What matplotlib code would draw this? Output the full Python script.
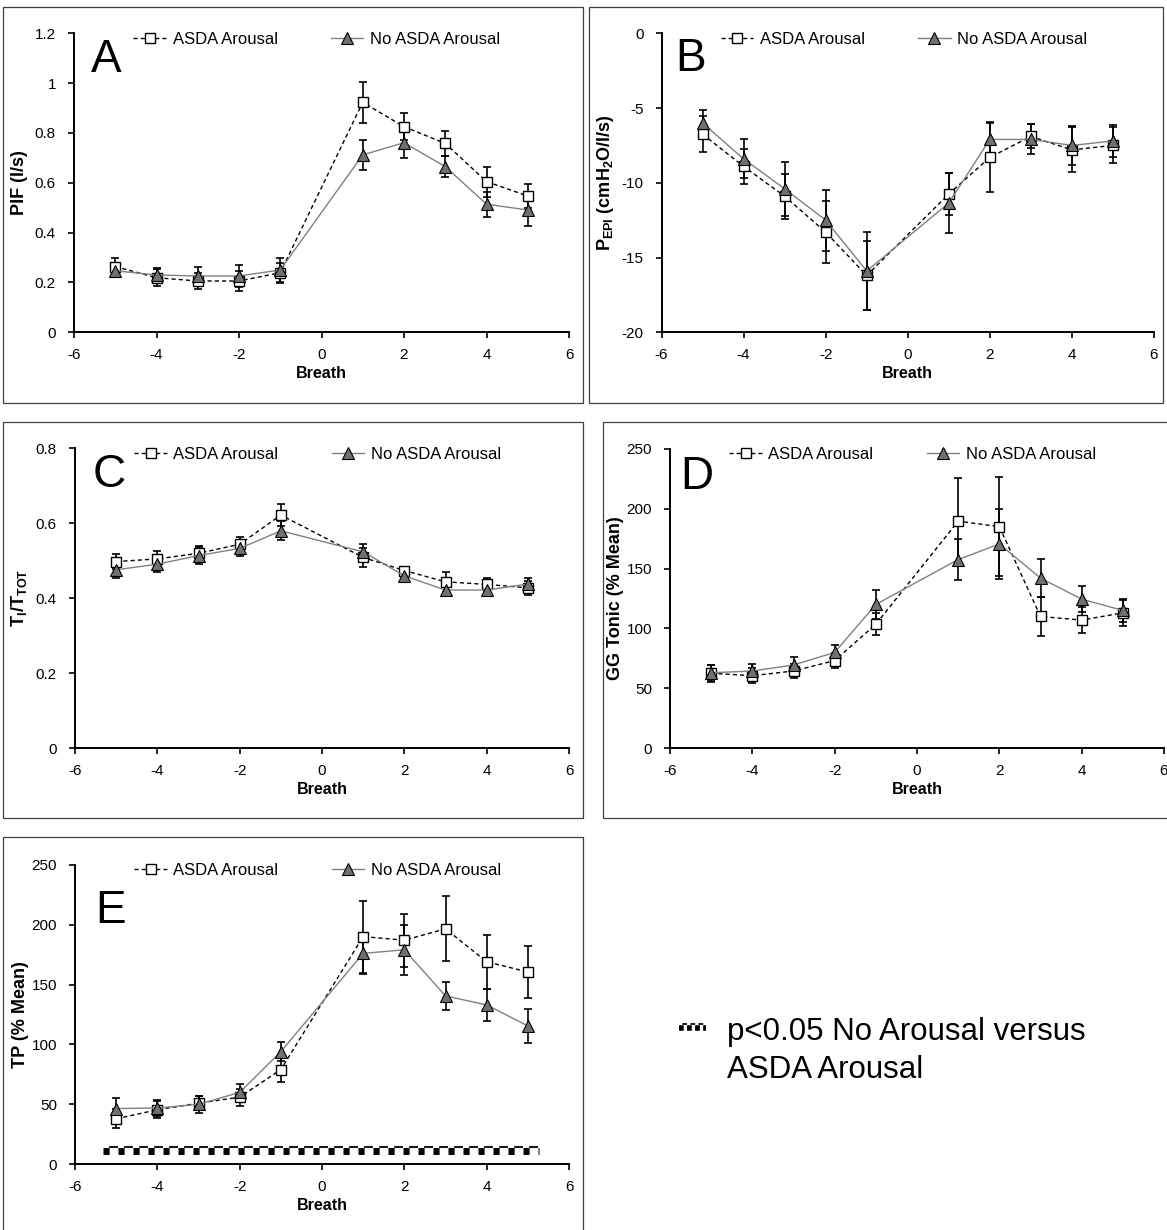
import matplotlib
matplotlib.use("Agg")
import matplotlib.pyplot as plt
from matplotlib.lines import Line2D
from matplotlib.patches import Rectangle
from matplotlib.ticker import FuncFormatter

plt.rcParams['font.family'] = ['Liberation Sans', 'DejaVu Sans']
plt.rcParams['mathtext.fontset'] = 'custom'
plt.rcParams['mathtext.rm'] = 'Liberation Sans'
plt.rcParams['mathtext.bf'] = 'Liberation Sans:bold'
plt.rcParams['mathtext.it'] = 'Liberation Sans:italic'
plt.rcParams['lines.scale_dashes'] = False
plt.rcParams['axes.unicode_minus'] = False

# breath number relative to arousal
breath = [-5, -4, -3, -2, -1, 1, 2, 3, 4, 5]

# A: PIF
pif_asda = [0.264, 0.219, 0.206, 0.206, 0.239, 0.923, 0.825, 0.758, 0.605, 0.547]
pif_asda_err = [0.036, 0.034, 0.032, 0.04, 0.04, 0.083, 0.054, 0.05, 0.06, 0.05]
pif_no = [0.247, 0.23, 0.226, 0.226, 0.25, 0.712, 0.761, 0.665, 0.514, 0.491]
pif_no_err = [0.027, 0.03, 0.037, 0.044, 0.05, 0.06, 0.06, 0.043, 0.05, 0.063]

# B: PEPI
pepi_asda = [-6.75, -8.9, -10.9, -13.3, -16.2, -10.75, -8.3, -6.9, -7.8, -7.5]
pepi_asda_err = [1.2, 1.15, 1.5, 2.05, 2.3, 1.4, 2.3, 0.8, 1.5, 1.2]
pepi_no = [-6.0, -8.4, -10.4, -12.5, -15.9, -11.35, -7.1, -7.1, -7.5, -7.2]
pepi_no_err = [0.85, 1.3, 1.8, 2.05, 2.6, 2.0, 1.15, 1.0, 1.3, 1.05]

# C: Ti/Ttot
ti_asda = [0.498, 0.505, 0.52, 0.544, 0.622, 0.509, 0.474, 0.444, 0.437, 0.428]
ti_asda_err = [0.02, 0.02, 0.02, 0.02, 0.03, 0.025, 0.01, 0.027, 0.018, 0.018]
ti_no = [0.476, 0.491, 0.514, 0.533, 0.58, 0.524, 0.46, 0.422, 0.422, 0.438]
ti_no_err = [0.022, 0.02, 0.022, 0.02, 0.025, 0.022, 0.01, 0.015, 0.01, 0.015]

# D: GG tonic
gg_asda = [62.6, 60.6, 64.5, 73.2, 103.5, 189.5, 185, 110, 107, 113]
gg_asda_err = [7, 6, 6, 6, 9, 36, 41, 16, 11, 11]
gg_no = [63, 64.5, 69.5, 80, 120, 157.5, 170.5, 142, 124.5, 115]
gg_no_err = [6.5, 6, 7, 6.5, 12, 17, 29, 16, 11, 10]

# E: TP
tp_asda = [38, 45.5, 51, 56, 79, 190, 187, 196.5, 169, 160.5]
tp_asda_err = [8, 7, 6, 7, 10, 30, 22, 27, 22.5, 22]
tp_no = [46.5, 47, 50, 60, 94, 176, 179, 140.5, 133, 115.5]
tp_no_err = [9, 7, 7, 7, 8, 17, 21, 11.5, 13.5, 14]

# significance bar (panel E)
sig_x = [-5.33, 5.27]
sig_y = 11.5

W, H = 1167, 1230
fig = plt.figure(figsize=(W / 100, H / 100), dpi=100)


def px_rect(x0, y0, x1, y1):
    # pixel box (top-left origin) -> figure fraction [l, b, w, h]
    return [x0 / W, 1 - y1 / H, (x1 - x0) / W, (y1 - y0) / H]


def panel(rect, asda, asda_err, no, no_err, ylim, yticks, ylabel, letter, letter_pos):
    ax = fig.add_axes(rect)
    ax.errorbar(breath, asda, yerr=asda_err, fmt='none', ecolor='black',
                elinewidth=1.2, capsize=2.7, capthick=1.2, zorder=2)
    ax.errorbar(breath, no, yerr=no_err, fmt='none', ecolor='black',
                elinewidth=1.2, capsize=2.7, capthick=1.2, zorder=2)
    ax.plot(breath, asda, color='black', lw=1.0, dashes=(3, 2.2),
            marker='s', ms=7.2, mfc='white', mec='black', mew=1.0,
            zorder=3, label='ASDA Arousal')
    ax.plot(breath, no, color='#808080', lw=1.0, ls='-',
            marker='^', ms=8, mfc='#707070', mec='black', mew=0.8,
            zorder=4, label='No ASDA Arousal')
    ax.set_xlim(-6, 6)
    ax.set_ylim(*ylim)
    ax.set_xticks([-6, -4, -2, 0, 2, 4, 6])
    ax.set_yticks(yticks)
    ax.yaxis.set_major_formatter(FuncFormatter(lambda v, p: '{:g}'.format(round(v, 3))))
    for s in ['top', 'right']:
        ax.spines[s].set_visible(False)
    for s in ['left', 'bottom']:
        ax.spines[s].set_linewidth(1.4)
    ax.tick_params(direction='out', length=4, width=1.2, labelsize=11)
    ax.tick_params(axis='x', pad=7.5)
    ax.tick_params(axis='y', pad=9)
    ax.set_xlabel('Breath', fontsize=11.5, fontweight='bold', labelpad=2.5)
    ax.set_ylabel(ylabel, fontsize=13, fontweight='bold')
    ax.yaxis.set_label_coords(-0.093, 0.5)
    ax.legend(loc='center left', bbox_to_anchor=(0.12, 0.98), ncol=2,
              frameon=False, fontsize=12, handlelength=1.95, handletextpad=0.4,
              columnspacing=3.2, borderpad=0, borderaxespad=0, markerscale=1.0)
    ax.text(letter_pos[0], letter_pos[1], letter, transform=ax.transAxes,
            fontsize=33, va='baseline', ha='left')
    return ax


panel(px_rect(74, 33.3, 569, 332.3), pif_asda, pif_asda_err, pif_no, pif_no_err,
      (0, 1.2), [0, 0.2, 0.4, 0.6, 0.8, 1.0, 1.2], 'PIF (l/s)', 'A', (0.034, 0.87))
panel(px_rect(661.5, 33.3, 1154, 332.3), pepi_asda, pepi_asda_err, pepi_no, pepi_no_err,
      (-20, 0), [-20, -15, -10, -5, 0],
      r'P$_{\mathbf{EPI}}$ (cmH$_{\mathbf{2}}$O/l/s)', 'B', (0.027, 0.874))
panel(px_rect(75, 448.3, 569, 748.3), ti_asda, ti_asda_err, ti_no, ti_no_err,
      (0, 0.8), [0, 0.2, 0.4, 0.6, 0.8], r'T$_{\mathbf{I}}$/T$_{\mathbf{TOT}}$',
      'C', (0.036, 0.871))
panel(px_rect(670, 448.7, 1164, 748.3), gg_asda, gg_asda_err, gg_no, gg_no_err,
      (0, 250), [0, 50, 100, 150, 200, 250], 'GG Tonic (% Mean)', 'D', (0.02, 0.866))
axE = panel(px_rect(75, 864.7, 569, 1164.3), tp_asda, tp_asda_err, tp_no, tp_no_err,
            (0, 250), [0, 50, 100, 150, 200, 250], 'TP (% Mean)', 'E', (0.04, 0.805))

# significance bar: black squares with a dashed top edge filling the gaps
axE.plot(sig_x, [sig_y, sig_y], color='black', lw=5.0,
         ls=(0, (4.4, 6.4)), dash_capstyle='butt', zorder=5)
axE.plot(sig_x, [sig_y + 3.3, sig_y + 3.3], color='#1a1a1a', lw=1.5,
         ls=(6.4, (6.4, 4.4)), dash_capstyle='butt', zorder=5)

# panel frames
for (x0, y0, x1, y1) in [(3, 7, 583, 403), (589, 7, 1163, 403), (3, 422, 583, 818),
                         (603, 422, 1175, 818), (3, 837, 583, 1240)]:
    fig.add_artist(Rectangle((x0 / W, 1 - y1 / H), (x1 - x0) / W, (y1 - y0) / H,
                             transform=fig.transFigure, fill=False,
                             edgecolor='#404040', lw=0.9))

# significance legend
fig.add_artist(Line2D([679 / W, 706 / W], [1 - 1027.5 / H, 1 - 1027.5 / H],
                      transform=fig.transFigure, color='black', lw=4.0,
                      ls=(0, (3.4, 2.4)), dash_capstyle='butt'))
fig.add_artist(Line2D([679 / W, 706 / W], [1 - 1023.5 / H, 1 - 1023.5 / H],
                      transform=fig.transFigure, color='#1a1a1a', lw=1.4,
                      ls=(3.4, (3.4, 2.4)), dash_capstyle='butt'))
fig.text(727 / W, 1 - 1040 / H, 'p<0.05 No Arousal versus', fontsize=22.5,
         va='baseline', ha='left')
fig.text(727 / W, 1 - 1078 / H, 'ASDA Arousal', fontsize=22.5,
         va='baseline', ha='left')

fig.savefig('out.png', dpi=100)
